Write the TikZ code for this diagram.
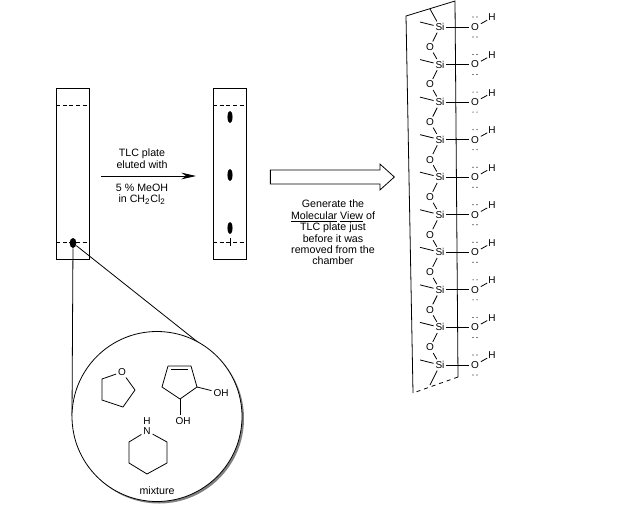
\documentclass[tikz,border=0pt]{standalone}
\usepackage{fontspec}
\setmainfont{Liberation Sans}
\usepackage{tikz}
\usetikzlibrary{shapes.geometric, shapes.arrows, arrows.meta, shadows}

\tikzset{
  atom/.style={inner sep=1.2pt, font=\fontsize{7.5}{8}\selectfont},
  label/.style={inner sep=0pt, align=center, font=\fontsize{8}{8.55}\selectfont},
  plate/.style={draw, minimum width=24.75pt, minimum height=128.25pt, inner sep=0pt},
  spot/.style={ellipse, fill=black, inner sep=0pt, minimum width=3.8pt, minimum height=9pt},
  front/.style={dash pattern=on 3pt off 2pt},
}

\begin{document}
\begin{tikzpicture}[x=0.75pt, y=-0.75pt, line width=0.6pt]
  \useasboundingbox (0,0) rectangle (631,529);

  % TLC plate before elution
  \node[plate] (plateA) at (72.5,173.5) {};
  \coordinate (frontAl) at (56,105);
  \coordinate (frontAr) at (89,105);
  \coordinate (baseAl) at (56,242);
  \coordinate (baseAr) at (89,242);
  \draw[front] (frontAl) -- (frontAr);
  \draw[front] (baseAl) -- (baseAr);
  \node[spot, minimum width=5pt, minimum height=7.5pt] (spotA) at (73,243) {};

  % TLC plate after elution
  \node[plate] (plateB) at (229.5,173.5) {};
  \coordinate (frontBl) at (213,105);
  \coordinate (frontBr) at (246,105);
  \coordinate (baseBl) at (213,242);
  \coordinate (baseBr) at (246,242);
  \coordinate (tickt) at (230,238);
  \coordinate (tickb) at (230,246);
  \draw[front] (frontBl) -- (frontBr);
  \draw[front] (baseBl) -- (baseBr);
  \draw (tickt) -- (tickb);
  \node[spot] (spotB1) at (230,117) {};
  \node[spot] (spotB2) at (230,175) {};
  \node[spot] (spotB3) at (230,228) {};

  % elution arrow
  \coordinate (elutes) at (101,176);
  \coordinate (elutee) at (196,176);
  \draw[-{Stealth[length=11pt, width=5pt]}] (elutes) -- (elutee);
  \node[label] (lblTop) at (142,158.5) {TLC plate\\eluted with};
  \node[label] (lblBot) at (142,194) {5 \% MeOH\\in CH\textsubscript{2}Cl\textsubscript{2}};

  % block arrow to molecular view
  \node[draw, single arrow, single arrow tip angle=84, single arrow head extend=4.5pt,
        inner xsep=0pt, inner ysep=4.9pt, minimum height=93pt] (gen) at (328.5,177) {};
  \node[label] (genText) at (333,232.5)
    {Generate the\\\underline{Molecular} \underline{View} of\\TLC plate just\\before it was\\removed from the\\chamber};

  % lines to the lens, then the lens over them
  \draw (spotA) -- (72,416);
  \draw (spotA) -- (199,343);
  \node[draw, circle, fill=white, minimum size=127.5pt, inner sep=0pt,
        general shadow={fill=black!50, shadow xshift=1.5pt, shadow yshift=-1.5pt}] (lens) at (157,416.5) {};

  % tetrahydrofuran
  \node[atom] (thfO) at (122,372) {O};
  \coordinate (thf1) at (102,379);
  \coordinate (thf2) at (102,400);
  \coordinate (thf3) at (123,407);
  \coordinate (thf4) at (135,390);
  \draw (thfO) -- (thf1) -- (thf2) -- (thf3) -- (thf4) -- (thfO);

  % cyclopentene diol
  \coordinate (cp1) at (168,366);
  \coordinate (cp2) at (191,366);
  \coordinate (cp3) at (197,387);
  \coordinate (cp4) at (180,399);
  \coordinate (cp5) at (162,387);
  \coordinate (cpd1) at (171,369.5);
  \coordinate (cpd2) at (188,369.5);
  \node[atom] (oh1) at (221,393) {OH};
  \node[atom] (oh2) at (183,421) {OH};
  \draw (cp1) -- (cp2) -- (cp3) -- (cp4) -- (cp5) -- (cp1);
  \draw (cpd1) -- (cpd2);
  \draw (cp3) -- (oh1);
  \draw (cp4) -- (180,415);

  % piperidine
  \node[atom] (pipN) at (147,431) {N};
  \node[atom, inner sep=0pt] (pipH) at (147,421) {H};
  \coordinate (pip1) at (129,442);
  \coordinate (pip2) at (129,463);
  \coordinate (pip3) at (147,474);
  \coordinate (pip4) at (167,463);
  \coordinate (pip5) at (167,442);
  \draw (pipN) -- (pip1) -- (pip2) -- (pip3) -- (pip4) -- (pip5) -- (pipN);
  \node[label] (mix) at (157,491) {mixture};

  % silica sheet
  \coordinate (sheetA) at (406,16);
  \coordinate (sheetB) at (455,1);
  \coordinate (sheetC) at (458,377);
  \coordinate (sheetD) at (413,393);
  \draw (sheetD) -- (sheetA) -- (sheetB) -- (sheetC);
  \draw[dash pattern=on 3pt off 3pt] (sheetC) -- (sheetD);

  % silanol rows
  \foreach \n in {1,...,10} {
    \pgfmathsetmacro{\rowy}{27+37.55*(\n-1)}
    \node[atom] (si\n) at (440,\rowy) {Si};
    \node[atom] (ol\n) at (475,\rowy) {O};
    \node[atom, inner sep=0.6pt] (h\n) at (492,\rowy-9.5) {H};
    \coordinate (me\n) at (420,\rowy-5);
    \draw (si\n) -- (ol\n);
    \draw (ol\n) -- (h\n);
    \draw (me\n) -- (si\n);
    % lone pairs
    \foreach \dy in {-10,10}
      \foreach \dx in {-2,2}
        \fill ({475+\dx},{\rowy+\dy}) circle (0.45pt);
  }
  \foreach \n [count=\m from 2] in {1,...,9} {
    \pgfmathsetmacro{\rowy}{47+37.55*(\n-1)}
    \node[atom] (br\n) at (430,\rowy) {O};
    \draw (si\n) -- (br\n);
    \draw (br\n) -- (si\m);
  }
  \coordinate (capT) at (430,9);
  \coordinate (capB) at (430,385);
  \draw (si1) -- (capT);
  \draw (si10) -- (capB);
\end{tikzpicture}
\end{document}
